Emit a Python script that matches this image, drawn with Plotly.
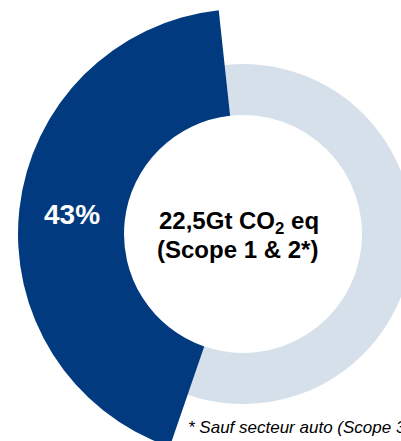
import plotly.graph_objects as go

# Data
labels = ["Secteur", "Reste"]
values = [43, 57]
center_line1 = "22,5Gt CO<sub>2</sub> eq"
center_line2 = "(Scope 1 & 2*)"
footnote = "* Sauf secteur auto (Scope 3)"

DARK = "#023a80"
LIGHT = "#d6e0eb"
CLEAR = "rgba(0,0,0,0)"
FONT = "Liberation Sans, Arial, sans-serif"

W, H = 470, 460
CX, CY = 243, 234          # pixel centre of the rings
R_BIG, R_RING, R_HOLE = 225, 170, 119


def dom(r):
    return dict(x=[(CX - r) / W, (CX + r) / W],
                y=[1 - (CY + r) / H, 1 - (CY - r) / H])


fig = go.Figure()

# light ring (remaining share)
fig.add_trace(go.Pie(
    labels=labels, values=values, sort=False, direction="clockwise",
    rotation=-161, hole=R_HOLE / R_RING, domain=dom(R_RING),
    marker=dict(colors=[CLEAR, LIGHT], line=dict(width=0)),
    textinfo="none", hoverinfo="skip", showlegend=False,
))

# dark highlighted slice with larger outer radius
fig.add_trace(go.Pie(
    labels=labels, values=values, sort=False, direction="clockwise",
    rotation=-161, hole=R_HOLE / R_BIG, domain=dom(R_BIG),
    marker=dict(colors=[DARK, CLEAR], line=dict(width=0)),
    texttemplate=["<b>%{percent:.0%}</b>", ""], textposition="inside",
    insidetextorientation="horizontal",
    insidetextfont=dict(family=FONT, size=28, color="white"),
    hoverinfo="skip", showlegend=False,
))

def px(x):
    return x / W

def py(y):
    return 1 - y / H

fig.add_annotation(x=px(239), y=py(222.5), xref="paper", yref="paper",
                   text="<b>" + center_line1 + "</b>", showarrow=False,
                   xanchor="center", yanchor="middle",
                   font=dict(family=FONT, size=24, color="black"))
fig.add_annotation(x=px(238), y=py(249), xref="paper", yref="paper",
                   text="<b>" + center_line2 + "</b>", showarrow=False,
                   xanchor="center", yanchor="middle",
                   font=dict(family=FONT, size=24, color="black"))
fig.add_annotation(x=px(186), y=py(427), xref="paper", yref="paper",
                   text="<i>" + footnote + "</i>", showarrow=False,
                   xanchor="left", yanchor="middle",
                   font=dict(family=FONT, size=17, color="black"))

fig.update_layout(width=W, height=H, autosize=False,
                  margin=dict(l=0, r=0, t=0, b=0),
                  paper_bgcolor="white", plot_bgcolor="white")

fig.write_html("out.html",
               post_script="document.documentElement.style.overflow='hidden';"
                           "document.body.style.overflow='hidden';"
                           "document.body.style.margin='0';")
